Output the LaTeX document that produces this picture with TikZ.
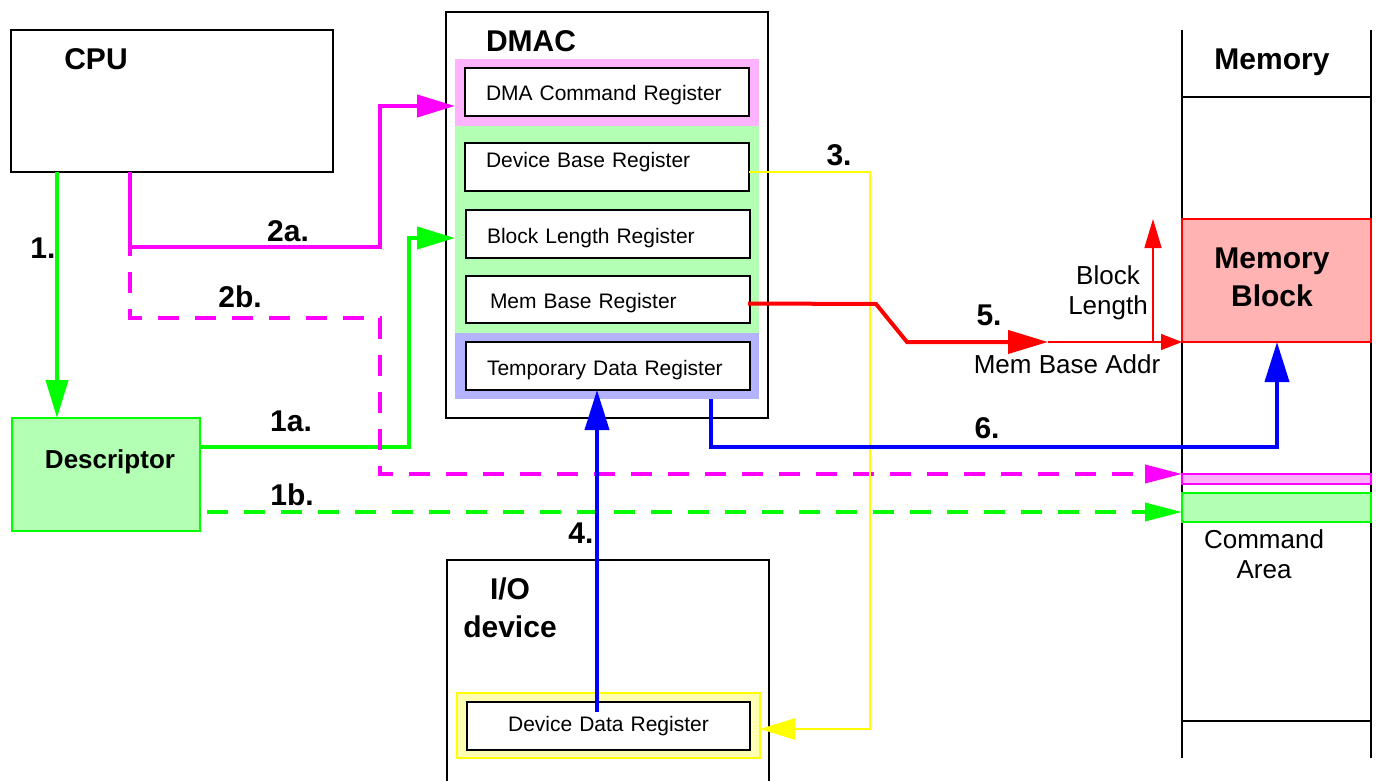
\documentclass[tikz,border=0pt]{standalone}
\usepackage{fontspec}
\setmainfont{Liberation Sans}
\usetikzlibrary{arrows.meta,calc}
\definecolor{lgreen}{RGB}{179,255,179}
\definecolor{lpink}{RGB}{255,179,255}
\definecolor{lblue}{RGB}{179,179,255}
\definecolor{lyellow}{RGB}{255,255,179}
\definecolor{lred}{RGB}{255,179,179}
\definecolor{pgreen}{RGB}{0,255,0}
\definecolor{pmag}{RGB}{255,0,255}
\definecolor{pblue}{RGB}{0,0,255}
\definecolor{pred}{RGB}{255,0,0}
\definecolor{pyellow}{RGB}{255,255,0}
\begin{document}
\begin{tikzpicture}[x=1pt,y=-1pt,
  rect/.style={anchor=north west,inner sep=0pt,outer sep=0pt},
  bigbox/.style={rect,draw,line width=2.6pt},
  band/.style={rect,minimum width=304pt},
  reg/.style={rect,draw,line width=2.8pt,fill=white,minimum height=48pt,
    inner xsep=21pt,inner ysep=0pt,text width=242pt,align=left,
    text height=18pt,text depth=0pt,
    font=\fontsize{21}{25}\selectfont},
  lbl/.style={anchor=base,inner sep=0pt,align=center,
    font=\bfseries\fontsize{30}{38}\selectfont},
  txt/.style={anchor=base,inner sep=0pt,align=center,
    font=\fontsize{26}{30}\selectfont},
  thick line/.style={line width=4pt},
  dash line/.style={line width=3.5pt,dash pattern=on 21pt off 16pt},
  tipM/.style={-{Triangle[length=38pt,width=22pt]}},
  tipB/.style={-{Triangle[length=40pt,width=24pt]}},
  tipY/.style={-{Triangle[length=35pt,width=21pt]}},
  tipR/.style={-{Triangle[length=40pt,width=23pt]}},
  tipS/.style={-{Triangle[length=21pt,width=16pt]}},
  tipV/.style={-{Triangle[length=29pt,width=17pt]}},
  tipD/.style={-{Triangle[length=37pt,width=18pt]}},
]
\clip (0,0) rectangle (1376,781);
\fill[white] (0,0) rectangle (1376,781);

% CPU
\node[bigbox,minimum width=322pt,minimum height=142pt] (cpu) at (11,30) {};
\node[lbl] (cpulbl) at (96,70) {CPU};

% Descriptor
\node[rect,draw=pgreen,line width=1.5pt,fill=lgreen,minimum width=188pt,minimum height=113pt] (desc) at (12,418) {};
\node[anchor=base,inner sep=0pt,font=\bfseries\fontsize{26}{31}\selectfont] (desclbl) at (110,468) {Descriptor};

% DMAC
\node[bigbox,minimum width=322pt,minimum height=406pt] (dmac) at (446,12) {};
\node[lbl] (dmaclbl) at (531,52) {DMAC};
\node[band,fill=lpink,minimum height=67pt] (pinkband) at (455,59) {};
\node[band,fill=lgreen,minimum height=207pt] (greenband) at (455,126) {};
\node[band,fill=lblue,minimum height=66pt] (blueband) at (455,333) {};
\node[reg,minimum width=284pt] (cmdreg) at (465,68) {DMA Command Register};
\node[reg] (devbase) at (465,143) {\raisebox{8.5pt}{Device Base Register}};
\node[reg] (blklen) at (466,210) {Block Length Register};
\node[reg,minimum height=47pt,inner xsep=24pt,text width=236pt] (membase) at (466,276) {Mem Base Register};
\node[reg] (tempreg) at (466,342) {Temporary Data Register};

% I/O device
\draw[line width=2.6pt] (447,790) -- (447,560) -- (769,560) -- (769,790);
\node[lbl] (iolbl) at (510,637) {I/O\\device};
\node[rect,draw=pyellow,line width=1.2pt,fill=lyellow,minimum width=303pt,minimum height=65pt] (ioband) at (457,693) {};
\node[reg,minimum width=283pt,text width=241pt,align=center] (devdata) at (467,702) {\raisebox{3.5pt}{Device Data Register}};

% Memory
\draw[line width=1.3pt] (1182,30) -- (1182,758) (1371,30) -- (1371,758)
  (1182,97) -- (1371,97) (1182,721) -- (1371,721);
\node[lbl] (memlbl) at (1272,70) {Memory};
\node[rect,draw=pred,line width=1.2pt,fill=lred,minimum width=189pt,minimum height=123pt] (memblock) at (1182,219) {};
\node[lbl] (memblocklbl) at (1272,306) {Memory\\Block};
\node[rect,draw=pmag,line width=1.2pt,fill=lpink,minimum width=189pt,minimum height=10pt] (pinkstripe) at (1182,474) {};
\node[rect,draw=pgreen,line width=1.2pt,fill=lgreen,minimum width=189pt,minimum height=29pt] (greenstripe) at (1182,493) {};
\node[txt] (cmdarea) at (1264,578) {Command\\Area};
\node[txt] (blocklen) at (1108,314) {Block\\Length};
\node[txt] (membaseaddr) at (1067,373) {Mem Base Addr};

% coordinates
\coordinate (x1) at (57,0);
\coordinate (x2) at (130,0);
\coordinate (x4) at (597,0);
\coordinate (x6) at (711,0);
\coordinate (x6b) at (1277,0);
\coordinate (xbl) at (1153,0);
\coordinate (r5) at (1048,342);

% 1.
\draw[pgreen,thick line,tipM] (cpu.south -| x1) -- (desc.north -| x1);
% 1a.
\draw[pgreen,thick line,tipM] ($(desc.east)+(0,-27.5)$) -- (409,447) -- (409,238) -- ($(greenband.west)+(0,8.5)$);
% 1b.
\draw[pgreen,dash line,dash phase=30pt,tipD] ($(desc.east)+(0,37.5)$) -- ($(greenstripe.west)+(0,4.5)$);
% 2a.
\draw[pmag,thick line,tipM] (cpu.south -| x2) -- (130,247) -- (380,247) -- (380,106) -- ($(pinkband.west)+(0,13.5)$);
% 2b.
\draw[pmag,dash line,dash phase=12pt,tipD] (130,247) -- (130,318) -- (380,318) -- (380,474) -- (pinkstripe.north west);
% 3.
\draw[pyellow,line width=2.5pt,tipY] ($(devbase.east)+(0,5)$) -- (870,172) -- (870,729) -- ($(ioband.east)+(0,3.5)$);
% 4.
\draw[pblue,thick line,tipB] ($(devdata.north -| x4)+(0,10)$) -- (tempreg.south -| x4);
% 5.
\draw[pred,thick line,tipR] ($(membase.east)+(-2,4)$) -- (876,304) -- (907,342) -- (r5);
\draw[pred,line width=1.5pt,tipS] (r5) -- (memblock.south west);
\draw[pred,line width=1.5pt,tipV] (r5 -| xbl) -- (memblock.north west -| xbl);
% 6.
\draw[pblue,thick line,tipB] (blueband.south -| x6) -- (711,447) -- (1277,447) -- (memblock.south -| x6b);

% step labels
\node[lbl] (n1) at (43,258) {1.};
\node[lbl] (n1a) at (291,431) {1a.};
\node[lbl] (n1b) at (292,505) {1b.};
\node[lbl] (n2a) at (288,241) {2a.};
\node[lbl] (n2b) at (240,307) {2b.};
\node[lbl] (n3) at (839,165) {3.};
\node[lbl] (n4) at (581,543) {4.};
\node[lbl] (n5) at (989,325) {5.};
\node[lbl] (n6) at (987,438) {6.};
\end{tikzpicture}
\end{document}
